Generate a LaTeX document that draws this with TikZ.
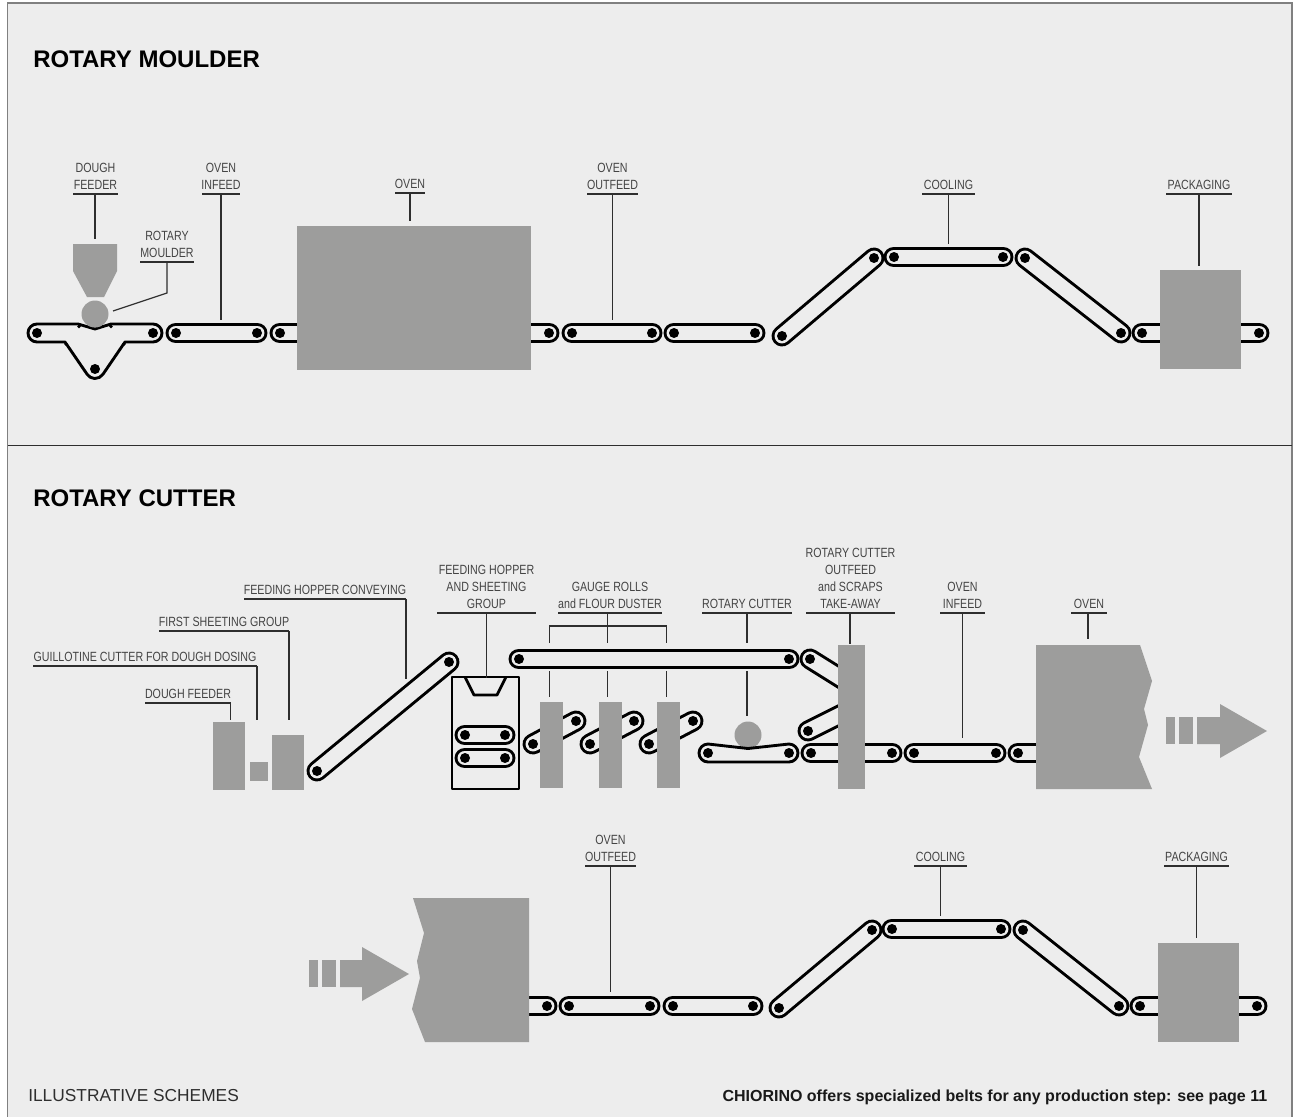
\documentclass[tikz,border=0pt]{standalone}
\usepackage{fontspec}
\setmainfont{Liberation Sans}
\newfontfamily\lblfont[FakeStretch=0.8]{Liberation Sans}
\definecolor{panel}{HTML}{EDEDED}
\definecolor{machine}{HTML}{9D9D9C}
\definecolor{rulecol}{HTML}{2E2E2E}
\definecolor{edgecol}{HTML}{808080}
\definecolor{lbltext}{HTML}{444444}
\tikzset{
  beltline/.style={line width=2.15pt,black,line join=round},
  beltouter/.style={line width=15.7pt,black,line cap=round},
  beltinner/.style={line width=11.2pt,panel,line cap=round},
  leader/.style={line width=0.9pt,rulecol},
  machinefill/.style={fill=machine,draw=none},
  lbl/.style={font=\lblfont\fontsize{10pt}{12.75pt}\selectfont,text=lbltext,align=center,inner xsep=0pt,inner ysep=3pt,anchor=south},
  titletext/.style={font=\bfseries\fontsize{18pt}{20pt}\selectfont,anchor=base west,inner sep=0pt,text=black},
}
% belt: two pulleys joined by an endless band
\newcommand\beltband[4]{%
  \draw[beltouter] (#1,#2) -- (#3,#4);
  \draw[beltinner] (#1,#2) -- (#3,#4);
  \fill (#1,#2) circle (5);
  \fill (#3,#4) circle (5);
}
% label with underline: name, left, right, underline y, text
\newcommand\lab[5]{%
  \path ({(#2+#3)/2},#4) node[lbl,minimum width={(#3-#2)*0.75pt}] (#1) {#5};
  \draw[leader] (#2,#4) -- (#3,#4);
  \coordinate (#1-u) at ({(#2+#3)/2},#4);
}
\begin{document}
\begin{tikzpicture}[x=0.75pt,y=-0.75pt]
\useasboundingbox (0,0) rectangle (1293,1117);
\fill[panel] (7.5,3) rectangle (1293,1117);
\draw[edgecol,line width=0.9pt] (7.5,1117) -- (7.5,3) -- (1292,3) -- (1292,1117);
\draw[rulecol,line width=0.9pt] (7.5,445.5) -- (1292,445.5);

\node[titletext] (t1) at (33,67.5) {ROTARY MOULDER};
\node[titletext] (t2) at (33,506.5) {ROTARY CUTTER};

%% ---------- upper line
\filldraw[beltline,fill=panel] (37,324) -- (78,324) -- (95,329) -- (111,324) -- (153,324) arc (-90:90:9) -- (125,342) -- (103,374.2) arc (33:147:9.5) -- (65,342) -- (37,342) arc (90:270:9) -- cycle;
\fill (37,333) circle (5); \fill (153,333) circle (5); \fill (95,369) circle (5);
\fill (79,326.5) circle (1.9); \fill (111,326.5) circle (1.9); \fill (66,344) circle (1.9); \fill (124,344) circle (1.9);
\beltband{176}{333}{257}{333}
\beltband{280}{333}{549}{333}
\beltband{572}{333}{652}{333}
\beltband{674}{333}{755}{333}
\beltband{782}{336}{874}{258}
\beltband{894}{257}{1003}{257}
\beltband{1025}{258}{1121}{333}
\beltband{1142}{333}{1259}{333}
\fill[machinefill] (73,244) -- (117,244) -- (117,271) -- (104,297) -- (87,297) -- (73,271) -- cycle;
\fill[machine] (95,314) circle (13.5);
\fill[machinefill] (297,226) rectangle (531,369.5);
\fill[machinefill] (1160,270) rectangle (1241,369);

\lab{a1}{73}{118}{194}{DOUGH\\FEEDER}
\coordinate (a1e) at (95,239); \draw[leader] (a1-u -| a1e) -- (a1e);
\lab{a2}{202}{240}{194}{OVEN\\INFEED}
\coordinate (a2e) at (221,320); \draw[leader] (a2-u) -- (a2e);
\lab{a3}{140}{194}{262}{ROTARY\\MOULDER}
\coordinate (a3k) at (167,293); \coordinate (a3e) at (113,311); \draw[leader] (a3-u) -- (a3k) -- (a3e);
\lab{a4}{395}{425}{193}{OVEN}
\coordinate (a4e) at (410,221); \draw[leader] (a4-u) -- (a4e);
\lab{a5}{587}{638}{194}{OVEN\\OUTFEED}
\coordinate (a5e) at (612.5,320); \draw[leader] (a5-u) -- (a5e);
\lab{a6}{922}{975}{194}{COOLING}
\coordinate (a6e) at (948.5,244); \draw[leader] (a6-u) -- (a6e);
\lab{a7}{1166}{1232}{194}{PACKAGING}
\coordinate (a7e) at (1199,266); \draw[leader] (a7-u) -- (a7e);

%% ---------- middle line
\fill[machinefill] (213,722) rectangle (245,790);
\fill[machinefill] (250,762) rectangle (268,781);
\fill[machinefill] (272,735) rectangle (304,790);
\beltband{317}{771}{449}{662}
\draw[beltline] (452,677) rectangle (519,789);
\draw[beltline] (465,677) -- (474,695) -- (497,695) -- (506,677);
\beltband{465}{735}{505}{735}
\beltband{465}{758}{505}{758}
\beltband{519}{659}{789}{659}
\beltband{533}{744}{576}{721}
\beltband{590}{744}{634}{721}
\beltband{649}{744}{693}{721}
\fill[machinefill] (540,702) rectangle (563,788);
\fill[machinefill] (599,702) rectangle (622,788);
\fill[machinefill] (657,702) rectangle (680,788);
\fill[machine] (748,735) circle (13.5);
\filldraw[beltline,fill=panel] (708,744) -- (748,748.5) -- (789,744) arc (-90:90:9) -- (708,762) arc (90:270:9) -- cycle;
\fill (708,753) circle (5); \fill (789,753) circle (5);
\beltband{810}{659}{850}{684}
\beltband{808}{731}{850}{710}
\beltband{811}{753}{892}{753}
\fill[machinefill] (838,645) rectangle (865,788.5);
\beltband{914}{753}{996}{753}
\beltband{1018}{753}{1060}{753}
\fill[machinefill] (1036,645) -- (1140,645) -- (1152,681) -- (1144,709) -- (1148,725) -- (1139,757) -- (1152,789) -- (1036,789) -- cycle;
\fill[machinefill] (1166,717) rectangle (1175,744);
\fill[machinefill] (1179,717) rectangle (1193,744);
\fill[machinefill] (1197,717) -- (1220,717) -- (1220,704) -- (1267,731) -- (1220,758) -- (1220,744) -- (1197,744) -- cycle;

\lab{b1}{145}{231}{703}{DOUGH FEEDER}
\coordinate (b1e) at (230.5,720); \draw[leader] (b1.south east -| b1e) -- (b1e);
\lab{b2}{33}{257}{666}{GUILLOTINE CUTTER FOR DOUGH DOSING}
\coordinate (b2e) at (257,720); \draw[leader] (b2.south east -| b2e) -- (b2e);
\lab{b3}{159}{289}{631}{FIRST SHEETING GROUP}
\coordinate (b3e) at (289,720); \draw[leader] (b3.south east -| b3e) -- (b3e);
\lab{b4}{244}{406}{599}{FEEDING HOPPER CONVEYING}
\coordinate (b4e) at (406,679); \draw[leader] (b4.south east -| b4e) -- (b4e);
\lab{b5}{437}{536}{613}{FEEDING HOPPER\\AND SHEETING\\GROUP}
\coordinate (b5e) at (486.5,678); \draw[leader] (b5-u) -- (b5e);
\lab{b6}{558}{662}{613}{GAUGE ROLLS\\and FLOUR DUSTER}
\coordinate (b6m) at (607.5,626); \coordinate (b6l) at (549.5,626); \coordinate (b6r) at (666.5,626);
\coordinate (b6me) at (607.5,643); \coordinate (b6le) at (549.5,643); \coordinate (b6re) at (666.5,643);
\draw[leader] (b6-u -| b6m) -- (b6me);
\draw[leader] (b6le) -- (b6l) -- (b6r) -- (b6re);
\coordinate (g1a) at (549.5,671); \coordinate (g1b) at (549.5,697); \draw[leader] (g1a) -- (g1b);
\coordinate (g2a) at (607.5,671); \coordinate (g2b) at (607.5,697); \draw[leader] (g2a) -- (g2b);
\coordinate (g3a) at (666.5,671); \coordinate (g3b) at (666.5,697); \draw[leader] (g3a) -- (g3b);
\lab{b7}{702}{792}{613}{ROTARY CUTTER}
\coordinate (b7e) at (747,643); \draw[leader] (b7-u -| b7e) -- (b7e);
\coordinate (r1a) at (747,671); \coordinate (r1b) at (747,716); \draw[leader] (r1a) -- (r1b);
\lab{b8}{806}{895}{613}{ROTARY CUTTER\\OUTFEED\\and SCRAPS\\TAKE-AWAY}
\coordinate (b8e) at (850,644); \draw[leader] (b8-u -| b8e) -- (b8e);
\lab{b9}{940}{985}{613}{OVEN\\INFEED}
\coordinate (b9e) at (962.5,738); \draw[leader] (b9-u) -- (b9e);
\lab{b10}{1071}{1107}{613}{OVEN}
\coordinate (b10e) at (1088,639); \draw[leader] (b10-u -| b10e) -- (b10e);

%% ---------- lower line
\beltband{515}{1006}{547}{1006}
\beltband{569}{1006}{650}{1006}
\beltband{673}{1006}{753}{1006}
\beltband{779}{1008}{872}{930}
\beltband{892}{929}{1001}{929}
\beltband{1023}{930}{1119}{1006}
\beltband{1140}{1006}{1257}{1006}
\fill[machinefill] (413,898) -- (529,898) -- (529,1042) -- (425,1042) -- (412,1009) -- (420,978) -- (417,961) -- (424,933) -- cycle;
\fill[machinefill] (309,960) rectangle (318,987);
\fill[machinefill] (322,960) rectangle (336,987);
\fill[machinefill] (340,960) -- (362,960) -- (362,947) -- (409,974) -- (362,1001) -- (362,987) -- (340,987) -- cycle;
\fill[machinefill] (1158,943) rectangle (1239,1042);

\lab{c1}{585}{636}{866}{OVEN\\OUTFEED}
\coordinate (c1e) at (610.5,992); \draw[leader] (c1-u) -- (c1e);
\lab{c2}{914}{967}{866}{COOLING}
\coordinate (c2e) at (940.5,916); \draw[leader] (c2-u) -- (c2e);
\lab{c3}{1164}{1229}{866}{PACKAGING}
\coordinate (c3e) at (1196.5,938); \draw[leader] (c3-u) -- (c3e);

\node[anchor=base west,inner sep=0pt,font=\fontsize{13pt}{15pt}\selectfont,text=rulecol] (f1) at (28,1101) {ILLUSTRATIVE SCHEMES};
\node[anchor=base east,inner sep=0pt,font=\bfseries\fontsize{12pt}{14pt}\selectfont,text=black!90] (f2) at (1267.5,1101) {CHIORINO offers specialized belts for any production step: see page 11};
\end{tikzpicture}
\end{document}
